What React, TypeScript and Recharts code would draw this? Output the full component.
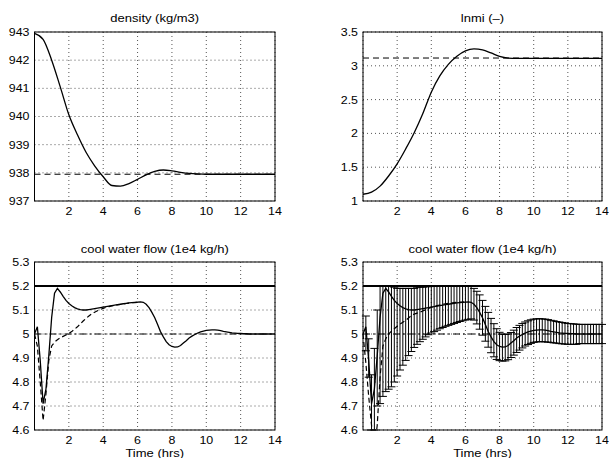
import { LineChart, Line, XAxis, YAxis, CartesianGrid, ReferenceLine, ErrorBar } from 'recharts';

// time grids
const hoursCoarse = [0, 0.5, 1, 1.5, 2, 2.5, 3, 3.5, 4, 4.5, 5, 5.5, 6, 6.5, 7, 7.5, 8, 8.5, 9, 9.5, 10, 10.5, 11, 11.5, 12, 12.5, 13, 13.5, 14];
const minutesFine = [
  0, 10, 20, 30, 40, 50, 60, 70, 80, 90, 100, 110, 120, 130, 140, 150, 160, 170, 180, 190,
  200, 210, 220, 230, 240, 250, 260, 270, 280, 290, 300, 310, 320, 330, 340, 350, 360, 370, 380, 390,
  400, 410, 420, 430, 440, 450, 460, 470, 480, 490, 500, 510, 520, 530, 540, 550, 560, 570, 580, 590,
  600, 610, 620, 630, 640, 650, 660, 670, 680, 690, 700, 710, 720, 730, 740, 750, 760, 770, 780, 790,
  800, 810, 820, 830, 840,
];

// top panels
const density = [
  942.95, 942.74, 942.0, 941.05, 940.06, 939.35, 938.73, 938.25, 937.86, 937.55,
  937.53, 937.62, 937.77, 937.93, 938.05, 938.1, 938.07, 938.02, 937.98, 937.96,
  937.95, 937.95, 937.95, 937.95, 937.95, 937.95, 937.95, 937.95, 937.95,
];
const densitySetpoint = 937.95;
const lnmi = [
  1.1, 1.13, 1.22, 1.37, 1.55, 1.77, 2.01, 2.29, 2.61, 2.85,
  3.02, 3.14, 3.22, 3.25, 3.235, 3.19, 3.14, 3.115, 3.11, 3.11,
  3.11, 3.11, 3.11, 3.11, 3.11, 3.11, 3.11, 3.11, 3.11,
];
const lnmiSetpoint = 3.115;

// bottom panels (cool water flow, 1e4 kg/h)
const coolFlow = [
  5.0, 5.03, 4.89, 4.71, 4.77, 4.91, 5.07, 5.17, 5.19, 5.175,
  5.157, 5.14, 5.127, 5.118, 5.11, 5.105, 5.102, 5.1, 5.1, 5.102,
  5.104, 5.106, 5.108, 5.11, 5.112, 5.114, 5.116, 5.118, 5.12, 5.122,
  5.124, 5.126, 5.128, 5.13, 5.131, 5.132, 5.133, 5.134, 5.132, 5.124,
  5.11, 5.09, 5.068, 5.04, 5.01, 4.988, 4.968, 4.955, 4.948, 4.945,
  4.946, 4.952, 4.962, 4.972, 4.983, 4.991, 4.998, 5.004, 5.009, 5.012,
  5.015, 5.016, 5.017, 5.017, 5.016, 5.014, 5.011, 5.009, 5.007, 5.005,
  5.004, 5.003, 5.002, 5.001, 5.001, 5.0, 5.0, 5.0, 5.0, 5.0,
  5.0, 5.0, 5.0, 5.0, 5.0,
];
const coolRefLeft = [
  5.0, 4.95, 4.8, 4.64, 4.75, 4.89, 4.95, 4.966, 4.976, 4.984,
  4.99, 4.996, 5.002, 5.01, 5.02, 5.03, 5.042, 5.054, 5.065, 5.075,
  5.084, 5.091, 5.097, 5.102, 5.107, 5.111, 5.114, 5.117, 5.119, 5.121,
  5.123, 5.125, 5.127, 5.129, 5.13, 5.131, 5.132,
];
const coolRefRight = [
  5.0, 4.88, 4.74, 4.62, 4.52, 4.62, 4.82, 4.95, 4.98, 5.0,
  5.012, 5.022, 5.032, 5.041, 5.049, 5.057, 5.067, 5.077, 5.083, 5.087,
  5.091, 5.096, 5.101, 5.106, 5.111, 5.115, 5.118, 5.121, 5.124, 5.126,
  5.128, 5.129, 5.131, 5.132, 5.133, 5.133, 5.134,
];
const coolUpper = [
  5.0, 5.075, 4.98, 4.83, 4.94, 5.1, 5.2, 5.2, 5.2, 5.2,
  5.2, 5.195, 5.19, 5.19, 5.19, 5.19, 5.19, 5.19, 5.19, 5.195,
  5.195, 5.195, 5.197, 5.197, 5.198, 5.198, 5.198, 5.199, 5.199, 5.199,
  5.2, 5.2, 5.2, 5.2, 5.2, 5.2, 5.2, 5.2, 5.198, 5.19,
  5.178, 5.163, 5.14, 5.115, 5.09, 5.065, 5.043, 5.022, 5.007, 4.999,
  4.998, 5.0, 5.006, 5.016, 5.027, 5.036, 5.044, 5.05, 5.055, 5.059,
  5.062, 5.063, 5.064, 5.063, 5.062, 5.06, 5.057, 5.055, 5.052, 5.05,
  5.048, 5.046, 5.044, 5.043, 5.042, 5.041, 5.04, 5.04, 5.04, 5.04,
  5.04, 5.04, 5.04, 5.04, 5.04,
];
const coolLower = [
  5.0, 4.93, 4.82, 4.6, 4.6, 4.7, 4.71, 4.74, 4.76, 4.77,
  4.78, 4.8, 4.825, 4.85, 4.87, 4.89, 4.91, 4.927, 4.944, 4.957,
  4.968, 4.978, 4.988, 4.997, 5.004, 5.01, 5.016, 5.022, 5.027, 5.032,
  5.036, 5.04, 5.044, 5.048, 5.052, 5.055, 5.058, 5.061, 5.063, 5.058,
  5.042, 5.02, 4.995, 4.97, 4.945, 4.922, 4.905, 4.894, 4.889, 4.887,
  4.888, 4.893, 4.902, 4.912, 4.923, 4.933, 4.942, 4.95, 4.956, 4.961,
  4.965, 4.967, 4.968, 4.968, 4.967, 4.966, 4.965, 4.963, 4.962, 4.96,
  4.959, 4.958, 4.957, 4.957, 4.957, 4.957, 4.96, 4.96, 4.96, 4.96,
  4.96, 4.96, 4.96, 4.96, 4.96,
];
const flowLimit = 5.2;
const flowSetpoint = 5.0;

// ticks
const xTicks = [2, 4, 6, 8, 10, 12, 14];
const densityTicks = [937, 938, 939, 940, 941, 942, 943];
const lnmiTicks = [1, 1.5, 2, 2.5, 3, 3.5];
const flowTicks = [4.6, 4.7, 4.8, 4.9, 5, 5.1, 5.2, 5.3];

const densityData = hoursCoarse.map((t, i) => ({ t, v: density[i] }));
const lnmiData = hoursCoarse.map((t, i) => ({ t, v: lnmi[i] }));
const flowLeftData = minutesFine.map((m, i) => ({ t: m / 60, v: coolFlow[i], ref: coolRefLeft[i] }));
const flowRightData = minutesFine.map((m, i) => ({
  t: m / 60,
  v: coolFlow[i],
  ref: coolRefRight[i],
  err: i === 0 ? undefined : [coolFlow[i] - coolLower[i], coolUpper[i] - coolFlow[i]],
}));

const FONT = "'Liberation Sans', Arial, Helvetica, sans-serif";
const STRETCH = 1.13; // the original text is a bit wider than tall

// panel geometry: chart box position, y-axis width, margins
const LEFT_COL = { left: 0, width: 290, yWidth: 34.5, marginRight: 15 };
const RIGHT_COL = { left: 320, width: 289, yWidth: 43, marginRight: 7 };
const TOP_ROW = { top: 0, marginTop: 32 };
const BOTTOM_ROW = { top: 229, marginTop: 33 };
const CHART_H = 229;
const X_AXIS_H = 28;

const yTick = (p: any) => (
  <text transform={`translate(${p.x},${p.y}) scale(${STRETCH},1)`} textAnchor="end" dy="0.355em"
    fontSize={11} fontFamily={FONT} fill="#000">{p.payload.value}</text>
);
const xTick = (p: any) => (
  <text transform={`translate(${p.x},${p.y}) scale(${STRETCH},1)`} textAnchor="middle" dy="0.71em"
    fontSize={11} fontFamily={FONT} fill="#000">{p.payload.value}</text>
);

interface PanelProps {
  col: typeof LEFT_COL;
  row: typeof TOP_ROW;
  data: any[];
  yDomain: [number, number];
  yTicks: number[];
  clip?: boolean;
  children: React.ReactNode;
}

function Panel({ col, row, data, yDomain, yTicks, clip, children }: PanelProps) {
  return (
    <div style={{ position: 'absolute', left: col.left, top: row.top }}>
      <LineChart width={col.width} height={CHART_H} data={data}
        margin={{ top: row.marginTop, right: col.marginRight, bottom: 0, left: 0 }}>
        <CartesianGrid stroke="#555" strokeDasharray="1 3" />
        <XAxis type="number" dataKey="t" domain={[0, 14]} ticks={xTicks} interval={0} height={X_AXIS_H}
          tickSize={0} tickMargin={6} axisLine={false} tickLine={false} tick={xTick} />
        <YAxis type="number" domain={yDomain} ticks={yTicks} interval={0} width={col.yWidth} allowDataOverflow={!!clip}
          tickSize={0} tickMargin={5} axisLine={false} tickLine={false} tick={yTick} />
        {children}
      </LineChart>
    </div>
  );
}

// plot frame (box around the axes area), same geometry as the panels
function Frame({ col, row }: { col: typeof LEFT_COL; row: typeof TOP_ROW }) {
  const x = col.left + col.yWidth;
  const y = row.top + row.marginTop;
  const w = col.width - col.yWidth - col.marginRight;
  const h = CHART_H - row.marginTop - X_AXIS_H;
  return <rect x={x} y={y} width={w} height={h} fill="none" stroke="#000" strokeWidth={1} />;
}

export default function App() {
  const labels = [
    { x: 154.75, y: 21.5, s: 'density (kg/m3)' },
    { x: 482.5, y: 21.5, s: 'lnmi (\u2013)' },
    { x: 154.75, y: 252.5, s: 'cool water flow (1e4 kg/h)' },
    { x: 482.5, y: 252.5, s: 'cool water flow (1e4 kg/h)' },
    { x: 154.75, y: 456.5, s: 'Time (hrs)' },
    { x: 482.5, y: 456.5, s: 'Time (hrs)' },
  ];
  return (
    <div style={{ position: 'absolute', left: 0, top: 0, width: 609, height: 458, background: '#fff', overflow: 'hidden' }}>
      <Panel col={LEFT_COL} row={TOP_ROW} data={densityData} yDomain={[937, 943]} yTicks={densityTicks}>
        <ReferenceLine y={densitySetpoint} stroke="#000" strokeDasharray="6 4" />
        <Line type="monotone" dataKey="v" stroke="#000" strokeWidth={1.3} dot={false} isAnimationActive={false} />
      </Panel>

      <Panel col={RIGHT_COL} row={TOP_ROW} data={lnmiData} yDomain={[1, 3.5]} yTicks={lnmiTicks}>
        <ReferenceLine y={lnmiSetpoint} stroke="#000" strokeDasharray="6 4" />
        <Line type="monotone" dataKey="v" stroke="#000" strokeWidth={1.3} dot={false} isAnimationActive={false} />
      </Panel>

      <Panel col={LEFT_COL} row={BOTTOM_ROW} data={flowLeftData} yDomain={[4.6, 5.3]} yTicks={flowTicks} clip>
        <ReferenceLine y={flowLimit} stroke="#000" strokeWidth={2.2} />
        <ReferenceLine y={flowSetpoint} stroke="#000" strokeDasharray="7 3 2 3" />
        <Line type="linear" dataKey="ref" stroke="#000" strokeWidth={1.2} strokeDasharray="5 3" dot={false} isAnimationActive={false} />
        <Line type="linear" dataKey="v" stroke="#000" strokeWidth={1.3} dot={false} isAnimationActive={false} />
      </Panel>

      <Panel col={RIGHT_COL} row={BOTTOM_ROW} data={flowRightData} yDomain={[4.6, 5.3]} yTicks={flowTicks} clip>
        <ReferenceLine y={flowLimit} stroke="#000" strokeWidth={2.2} />
        <ReferenceLine y={flowSetpoint} stroke="#000" strokeDasharray="7 3 2 3" />
        <Line type="linear" dataKey="ref" stroke="#000" strokeWidth={1.2} strokeDasharray="5 3" dot={false} isAnimationActive={false} />
        <Line type="linear" dataKey="v" stroke="#000" strokeWidth={1.3} dot={false} isAnimationActive={false}>
          <ErrorBar dataKey="err" direction="y" width={4} strokeWidth={1} stroke="#000" />
        </Line>
      </Panel>

      <svg width={609} height={458} style={{ position: 'absolute', left: 0, top: 0, pointerEvents: 'none' }}>
        <Frame col={LEFT_COL} row={TOP_ROW} />
        <Frame col={RIGHT_COL} row={TOP_ROW} />
        <Frame col={LEFT_COL} row={BOTTOM_ROW} />
        <Frame col={RIGHT_COL} row={BOTTOM_ROW} />
        {labels.map((l, i) => (
          <text key={i} transform={`translate(${l.x},${l.y}) scale(${STRETCH},1)`} textAnchor="middle"
            fontSize={11.5} fontFamily={FONT} fill="#000">{l.s}</text>
        ))}
      </svg>
    </div>
  );
}
